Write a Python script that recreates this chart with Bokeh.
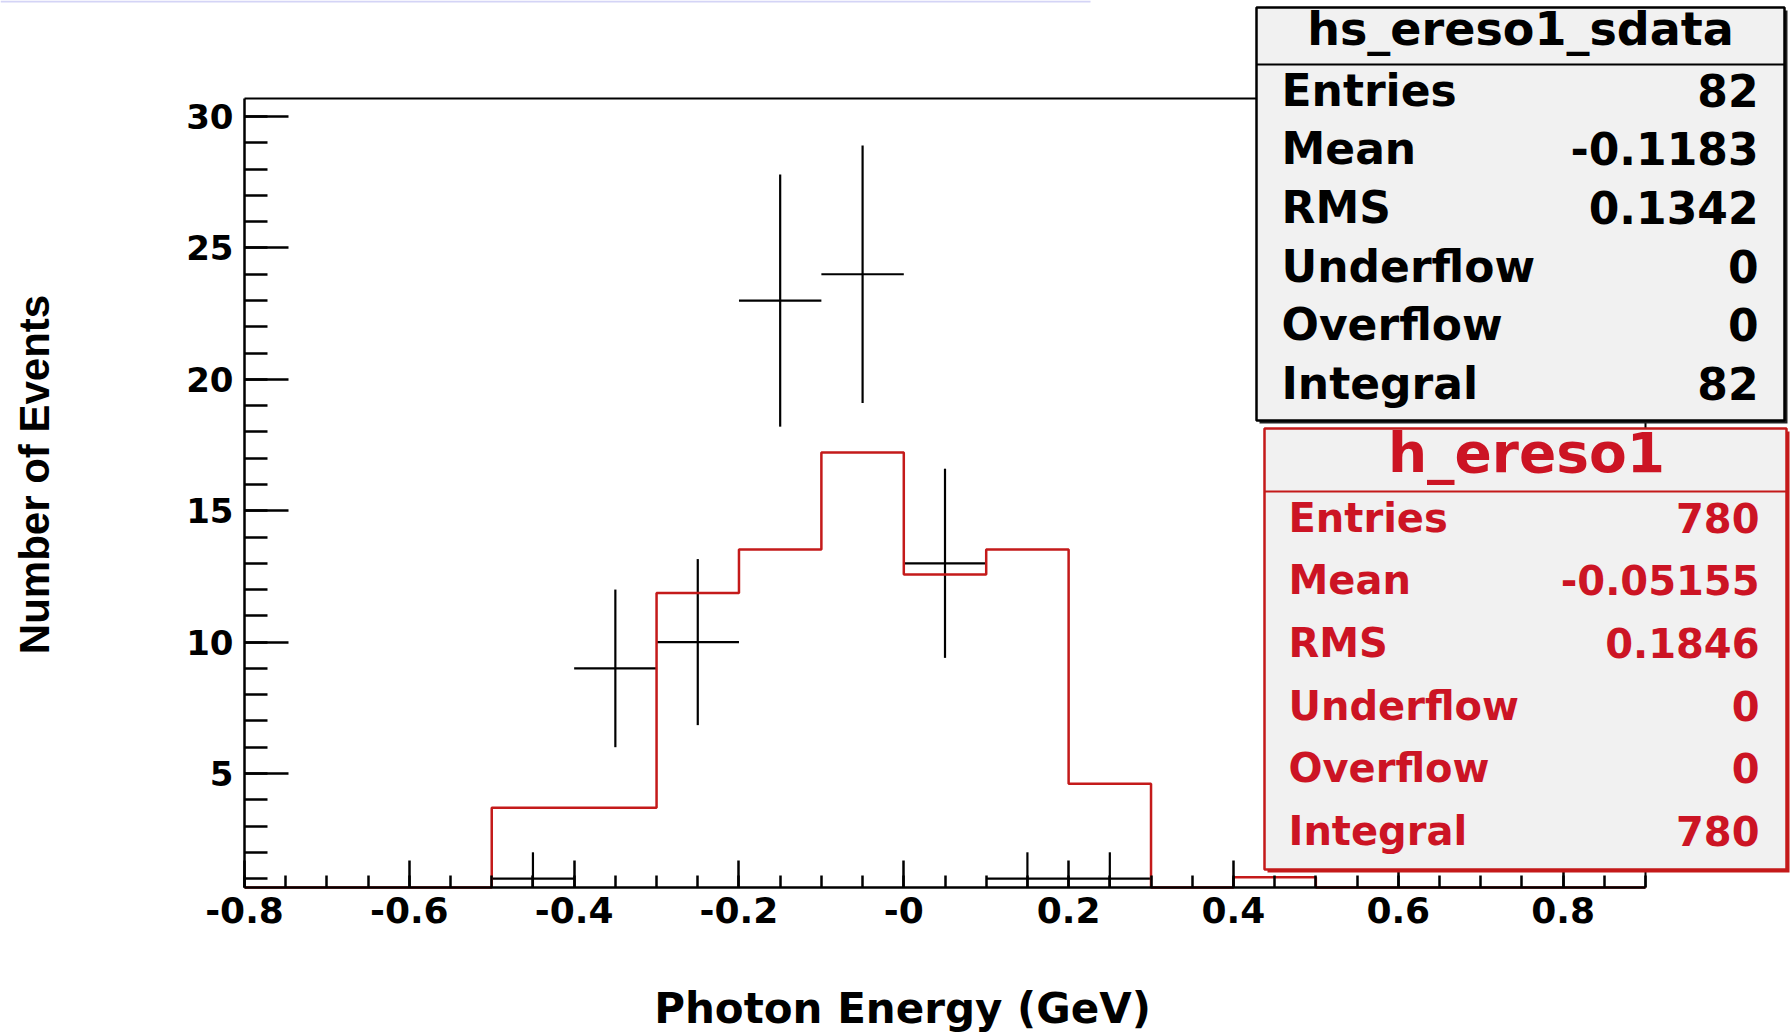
import numpy as np
from bokeh.plotting import figure
from bokeh.models import FixedTicker, BoxAnnotation, Label, Range1d
from bokeh.embed import file_html
from bokeh.resources import INLINE

# ---------------- data ----------------
bin_edges = [-0.8, -0.7, -0.6, -0.5, -0.4, -0.3, -0.2, -0.1, 0.0, 0.1,
             0.2, 0.3, 0.4, 0.5, 0.6, 0.7, 0.8, 0.9]
mc_values = [0, 0, 0, 3.70, 3.70, 11.87, 13.52, 17.22, 12.57, 13.52,
             4.61, 0, 1.05, 0, 0, 0, 0]
data_centers = [-0.45, -0.35, -0.25, -0.15, -0.05, 0.05, 0.15, 0.25]
data_values = [1, 9, 10, 23, 24, 13, 1, 1]
data_errors = [1.0, 3.0, 3.16, 4.8, 4.9, 3.6, 1.0, 1.0]

x_tick_values = [-0.8, -0.6, -0.4, -0.2, 0.0, 0.2, 0.4, 0.6, 0.8]
x_tick_labels = ["-0.8", "-0.6", "-0.4", "-0.2", "-0", "0.2", "0.4", "0.6", "0.8"]
y_tick_values = [5, 10, 15, 20, 25, 30]
y_tick_labels = ["5", "10", "15", "20", "25", "30"]

stat_names = ["Entries", "Mean", "RMS", "Underflow", "Overflow", "Integral"]
data_stat_values = ["82", "-0.1183", "0.1342", "0", "0", "82"]
mc_stat_values = ["780", "-0.05155", "0.1846", "0", "0", "780"]
data_title = "hs_ereso1_sdata"
mc_title = "h_ereso1"
x_title = "Photon Energy (GeV)"
y_title = "Number of Events"

X_MIN, X_MAX = -0.8, 0.9
Y_MIN, Y_MAX = 0.66, 30.69

# ---------------- layout (canvas pixels of the ROOT frame) ----------------
W, H = 1790, 1032
FL, FR, FT, FB = 244, 1645, 98, 887
PX_X = (FR - FL) / (X_MAX - X_MIN)
PX_Y = (FB - FT) / (Y_MAX - Y_MIN)

RED_LINE = "#c41a1a"
RED_TEXT = "#cc1424"
BOX_FILL = "#f1f1f1"

# the bokeh frame covers the whole canvas; axes are pinned at the ROOT frame edges
x_range = Range1d(X_MIN - FL / PX_X, X_MAX + (W - FR) / PX_X)
y_range = Range1d(Y_MIN - (H - FB) / PX_Y, Y_MAX + FT / PX_Y)

p = figure(width=W, height=H, x_range=x_range, y_range=y_range,
           output_backend="svg", toolbar_location=None, min_border=0)
p.title.visible = False
p.background_fill_color = "white"
p.border_fill_color = "white"
p.outline_line_color = None
p.xgrid.visible = False
p.ygrid.visible = False

# axes
x_minor = [round(X_MIN + 0.05 * i, 3) for i in range(int(round((X_MAX - X_MIN) / 0.05)) + 1)]
p.xaxis.ticker = FixedTicker(ticks=x_tick_values, minor_ticks=x_minor)
p.xaxis.major_label_overrides = {v: l for v, l in zip(x_tick_values, x_tick_labels)}
y_minor = list(range(1, 31))
p.yaxis.ticker = FixedTicker(ticks=y_tick_values, minor_ticks=y_minor)
p.yaxis.major_label_overrides = {v: l for v, l in zip(y_tick_values, y_tick_labels)}

p.xaxis.fixed_location = Y_MIN
p.yaxis.fixed_location = X_MIN
p.xaxis.bounds = (X_MIN, X_MAX)
p.yaxis.bounds = (Y_MIN, Y_MAX)

for ax in (p.xaxis[0], p.yaxis[0]):
    ax.axis_line_color = "black"
    ax.axis_line_width = 2.5
    ax.major_tick_line_color = "black"
    ax.major_tick_line_width = 2.5
    ax.minor_tick_line_color = "black"
    ax.minor_tick_line_width = 2.5
    ax.major_tick_out = 0
    ax.minor_tick_out = 0
    ax.major_label_text_font = "DejaVu Sans"
    ax.major_label_text_font_style = "bold"
    ax.major_label_text_color = "black"

p.xaxis.major_tick_in = 27
p.xaxis.minor_tick_in = 12
p.xaxis.major_label_text_font_size = "36px"
p.xaxis.major_label_standoff = 9
p.yaxis.major_tick_in = 44
p.yaxis.minor_tick_in = 23
p.yaxis.major_label_text_font_size = "34px"
p.yaxis.major_label_standoff = 11

# ROOT frame: top and right edges
p.line([X_MIN, X_MAX, X_MAX], [Y_MAX, Y_MAX, Y_MIN], line_color="black", line_width=2)

# ---------------- histograms ----------------
edges = np.array(bin_edges, dtype=float)
mc = np.maximum(np.array(mc_values, dtype=float), Y_MIN)
step_x = np.repeat(edges, 2)
step_y = np.concatenate([[Y_MIN], np.repeat(mc, 2), [Y_MIN]])

half_w = (edges[1] - edges[0]) / 2.0
dc = np.array(data_centers, dtype=float)
dv = np.array(data_values, dtype=float)
de = np.array(data_errors, dtype=float)
lo = np.maximum(dv - de, Y_MIN)
hi = np.minimum(dv + de, Y_MAX)

p.segment(x0=dc - half_w, x1=dc + half_w, y0=dv, y1=dv,
          line_color="black", line_width=2.2)
p.segment(x0=dc, x1=dc, y0=lo, y1=hi, line_color="black", line_width=2.2)
p.line(step_x, step_y, line_color=RED_LINE, line_width=2.5)


# ---------------- stats boxes & titles (canvas px, top-left origin -> screen units) ----------------
def sx(X):
    return X


def sy(Y):
    return H - Y


def box(L, T, R, B, fill, line, lw, shadow=None):
    if shadow is not None:
        p.add_layout(BoxAnnotation(left=sx(L + 3), right=sx(R + 3), top=sy(T + 3), bottom=sy(B + 3),
                                   left_units="screen", right_units="screen",
                                   top_units="screen", bottom_units="screen",
                                   fill_color=shadow, fill_alpha=1, line_alpha=0))
    p.add_layout(BoxAnnotation(left=sx(L), right=sx(R), top=sy(T), bottom=sy(B),
                               left_units="screen", right_units="screen",
                               top_units="screen", bottom_units="screen",
                               fill_color=fill, fill_alpha=1 if fill else 0,
                               line_color=line, line_alpha=1 if line else 0,
                               line_width=lw))


def text(X, Y, s, size, color, align="left", baseline="alphabetic", font="DejaVu Sans", angle=0):
    p.add_layout(Label(x=sx(X), y=sy(Y), x_units="screen", y_units="screen",
                       text=s, text_font=font, text_font_style="bold",
                       text_font_size=size, text_color=color,
                       text_align=align, text_baseline=baseline, angle=angle))


# faint lavender strip at very top of screenshot
box(0, 0, 1090, 2, "#d4d4f6", None, 0)

# data stats box (black)
box(1256, 7, 1784, 420, BOX_FILL, "black", 2.5, shadow="#222222")
box(1256, 63, 1784, 65, "black", None, 0)
text(1520, 28, data_title, "46px", "black", align="center")
for i, (n, v) in enumerate(zip(stat_names, data_stat_values)):
    yb = 89.5 + 58.7 * i
    text(1281, yb, n, "44px", "black")
    text(1758, yb, v, "44px", "black", align="right")

# MC stats box (red)
box(1264, 428, 1786, 869, BOX_FILL, RED_LINE, 2.5, shadow=RED_LINE)
box(1264, 490, 1786, 492, RED_LINE, None, 0)
text(1526, 452, mc_title, "55px", RED_TEXT, align="center")
for i, (n, v) in enumerate(zip(stat_names, mc_stat_values)):
    yb = 517 + 62.7 * i
    text(1288, yb, n, "40px", RED_TEXT)
    text(1759, yb, v, "40px", RED_TEXT, align="right")

# axis titles
text(902, 1008, x_title, "42px", "black", align="center", baseline="middle")
text(34, 474, y_title, "42px", "black", align="center", baseline="middle",
     font="Liberation Sans", angle=np.pi / 2)

open("out.html", "w").write(file_html(p, INLINE))
